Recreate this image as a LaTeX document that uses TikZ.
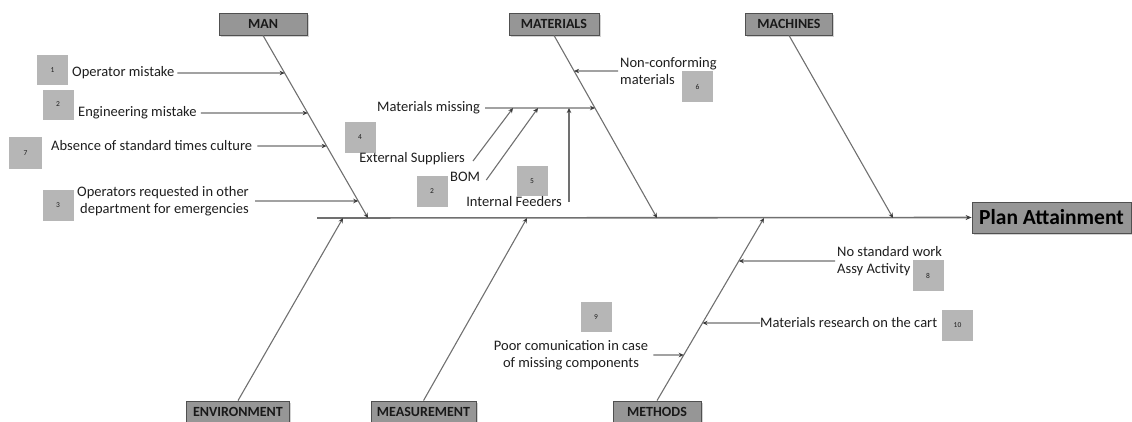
\documentclass[tikz,border=0pt]{standalone}
\usepackage{fontspec}
\setmainfont{Carlito}
\usetikzlibrary{arrows.meta,shadows,calc}

\definecolor{linegray}{RGB}{112,112,112}
\definecolor{hdrfill}{RGB}{150,150,150}
\definecolor{hdrline}{RGB}{80,80,80}
\definecolor{numfill}{RGB}{182,182,182}
\definecolor{txtcol}{RGB}{30,30,30}
\definecolor{tipcol}{RGB}{60,60,60}

\tikzset{
  hdr/.style={draw=hdrline, line width=0.8pt, fill=hdrfill, minimum height=22pt,
    inner sep=0pt, text=black!90, font=\fontsize{14}{16}\selectfont\bfseries,
    drop shadow={shadow xshift=1.5pt, shadow yshift=-1.5pt, fill=black!35}},
  effect/.style={hdr, minimum height=31pt, minimum width=159pt,
    font=\fontsize{21.5}{24}\selectfont\bfseries, text=black},
  txt/.style={inner sep=0pt, text=txtcol, font=\fontsize{14.5}{17}\selectfont},
  numbox/.style={fill=numfill, minimum width=31pt, minimum height=30pt, inner sep=0pt,
    text=txtcol, font=\fontsize{7.5}{8}\selectfont},
  arr/.style={draw=linegray, line width=1.1pt, -{Stealth[length=5pt,width=4.5pt,color=tipcol]}},
  spine/.style={draw=linegray, line width=1.6pt, -{Stealth[length=6pt,width=5pt,color=tipcol]}},
}

\begin{document}
\begin{tikzpicture}[x=1pt,y=-1pt]
\useasboundingbox (0,0) rectangle (1132,421);

% category headers
\node[hdr, minimum width=88pt]  (man)  at (263,24)    {MAN};
\node[hdr, minimum width=90pt]  (mat)  at (554,24)    {MATERIALS};
\node[hdr, minimum width=87pt]  (mach) at (789,24)    {MACHINES};
\node[hdr, minimum width=103pt] (env)  at (238,412)   {ENVIRONMENT};
\node[hdr, minimum width=105pt] (meas) at (423.5,412) {MEASUREMENT};
\node[hdr, minimum width=88pt]  (meth) at (657,412)   {METHODS};
\node[effect] (plan) at (1051.5,217.5) {Plan Attainment};

% spine and where the bones meet it
\coordinate (spinestart) at (317,218);
\coordinate (manend)  at (368,218);
\coordinate (matend)  at (657,218);
\coordinate (machend) at (893,218);
\coordinate (envend)  at (343,218);
\coordinate (measend) at (527,218);
\coordinate (methend) at (764,218);

\draw[spine] (spinestart) -- (plan.west);
\draw[arr] (man.south)  -- (manend);
\draw[arr] (mat.south)  -- (matend);
\draw[arr] (mach.south) -- (machend);
\draw[arr] (env.north)  -- (envend);
\draw[arr] (meas.north) -- (measend);
\draw[arr] (meth.north) -- (methend);

% ---- MAN causes
\node[numbox] (n1) at (52.5,70) {1};
\node[txt, anchor=west] (c1) at (72,73) {Operator mistake};
\coordinate (c1h) at (0,73);
\draw[arr] ([xshift=3pt]c1.east) -- (intersection of man.south--manend and c1.east--c1h);

\node[numbox] (n2) at (58,104.5) {2};
\node[txt, anchor=west] (c2) at (78,113) {Engineering mistake};
\coordinate (c2h) at (0,113);
\draw[arr] ([xshift=4pt]c2.east) -- (intersection of man.south--manend and c2.east--c2h);

\node[numbox, minimum width=33pt, minimum height=32pt] (n7) at (25.5,153) {7};
\node[txt, anchor=west] (c7) at (51,146) {Absence of standard times culture};
\coordinate (c7h) at (0,146);
\draw[arr] ([xshift=5pt]c7.east) -- (intersection of man.south--manend and c7.east--c7h);

\node[numbox, minimum height=31pt] (n3) at (58,205.5) {3};
\node[txt, anchor=east, align=right] (c3) at (249,201) {Operators requested in other\\department for emergencies};
\coordinate (c3h) at (0,201);
\draw[arr] ([xshift=6pt]c3.east) -- (intersection of man.south--manend and c3.east--c3h);

% ---- MATERIALS causes
\node[txt, anchor=west] (mm) at (377,108) {Materials missing};
\coordinate (mmh) at (0,108);
\coordinate (mmend) at (intersection of mat.south--matend and mm.east--mmh);
\draw[arr] ([xshift=5pt]mm.east) -- (mmend);

\coordinate (s1) at (513,108);
\coordinate (s2) at (538,108);
\coordinate (s3) at (569,108);

\node[numbox, minimum height=31pt] (n4) at (360,137.5) {4};
\node[txt, anchor=east] (es) at (465,159) {External Suppliers};
\draw[arr] ([xshift=8pt,yshift=-2pt]es.east) -- (s1);

\node[numbox, minimum height=31pt] (n2b) at (432,191.5) {2};
\node[txt, anchor=west] (bom) at (450,177) {BOM};
\draw[arr] ([xshift=6pt,yshift=-3pt]bom.east) -- (s2);

\node[numbox] (n5) at (532,181) {5};
\node[txt, anchor=east] (ifd) at (562,202) {Internal Feeders};
\draw[arr] (s3 |- ifd.east) -- (s3);

\node[txt, anchor=west, align=left] (nc) at (620,71) {Non-conforming\\materials};
\coordinate (nch) at (1000,71);
\draw[arr] ([xshift=-2pt]nc.west) -- (intersection of mat.south--matend and nc.west--nch);
\node[numbox, minimum height=31pt] (n6) at (697.5,86.5) {6};

% ---- METHODS causes
\node[txt, anchor=west, align=left] (ns) at (837,261) {No standard work\\Assy Activity};
\coordinate (nsh) at (1000,261);
\draw[arr] ([xshift=-2pt]ns.west) -- (intersection of meth.north--methend and ns.west--nsh);
\node[numbox, minimum height=31pt] (n8) at (928,275.5) {8};

\node[txt, anchor=west] (mr) at (760,323) {Materials research on the cart};
\coordinate (mrh) at (1000,323);
\draw[arr] (mr.west) -- (intersection of meth.north--methend and mr.west--mrh);
\node[numbox, minimum height=31pt] (n10) at (957.5,325.5) {10};

\node[numbox] (n9) at (596,317) {9};
\node[txt, align=center] (pc) at (571,355) {Poor comunication in case\\of missing components};
\coordinate (pch) at (0,355);
\draw[arr] ([xshift=5pt]pc.east) -- (intersection of meth.north--methend and pc.east--pch);
\end{tikzpicture}
\end{document}
